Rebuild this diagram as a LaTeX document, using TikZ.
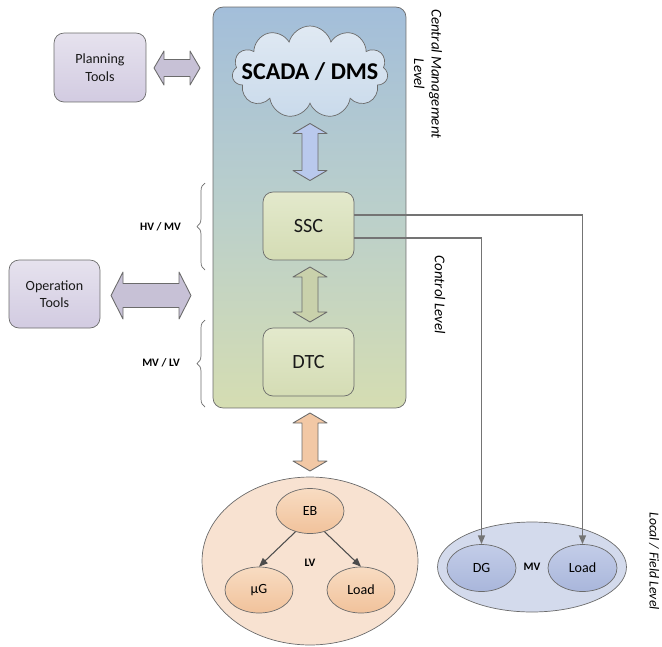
\documentclass[tikz,border=0pt]{standalone}
\usepackage{fontspec}
\setmainfont{Carlito}
\usepackage{tikz}
\usetikzlibrary{shapes,arrows.meta,positioning,calc,decorations.pathreplacing}

\definecolor{edgegray}{HTML}{6B6B6B}
\definecolor{linkgray}{HTML}{747474}
\definecolor{bluetop}{HTML}{A3BEDA}
\definecolor{bluemid}{HTML}{BACFCB}
\definecolor{greenbot}{HTML}{D5DDB2}
\definecolor{cloudtop}{HTML}{E0E9F3}
\definecolor{cloudbot}{HTML}{C9DAEB}
\definecolor{ctrltop}{HTML}{E3E9CC}
\definecolor{ctrlbot}{HTML}{D4DCB4}
\definecolor{tooltop}{HTML}{E6E2EE}
\definecolor{toolbot}{HTML}{D2CBE1}
\definecolor{peach}{HTML}{F8E2D1}
\definecolor{orangetop}{HTML}{F8DCC2}
\definecolor{orangebot}{HTML}{F1C29B}
\definecolor{mvfill}{HTML}{D3DAEC}
\definecolor{mvtop}{HTML}{C3CDE8}
\definecolor{mvbot}{HTML}{A9B6DB}

\begin{document}
\begin{tikzpicture}[x=0.02cm,y=-0.02cm,
    box/.style={draw=edgegray, rounded corners=0.2cm, minimum width=1.82cm,
      minimum height=1.36cm, align=center, text=black!90, font=\fontsize{8}{10}\selectfont},
    ctrl/.style={box, top color=ctrltop, bottom color=ctrlbot, font=\fontsize{11.5}{13}\selectfont},
    tool/.style={box, top color=tooltop, bottom color=toolbot},
    % block double arrow: length, shaft half width, head half width, head length
    pics/dblarrow/.style n args={4}{code={
      \path[pic actions] (0,-#1/2) -- (#3,-#1/2+#4) -- (#2,-#1/2+#4) -- (#2,#1/2-#4)
        -- (#3,#1/2-#4) -- (0,#1/2) -- (-#3,#1/2-#4) -- (-#2,#1/2-#4)
        -- (-#2,-#1/2+#4) -- (-#3,-#1/2+#4) -- cycle;}},
    bigarrow/.style={draw=edgegray, line width=0.5pt, line join=round},
    bubble/.style={ellipse, draw=edgegray, inner sep=0pt, font=\fontsize{8}{10}\selectfont},
    level/.style={rotate=-90, align=center, font=\fontsize{8.5}{10}\selectfont\itshape},
    volt/.style={font=\fontsize{6.5}{8}\selectfont\bfseries},
    brace/.style={draw=edgegray, decorate, decoration={brace, amplitude=0.16cm}},
    link/.style={draw=linkgray, line width=0.8pt, -{Triangle[length=5pt,width=4pt]}},
    branch/.style={draw=black!70, line width=0.6pt, -{Triangle[length=5pt,width=4pt]}}]

    \useasboundingbox (0,0) rectangle (662,646);

    % Central management + control column
    \node[draw=edgegray, rounded corners=0.2cm, minimum width=3.86cm, minimum height=8.02cm,
      top color=bluetop, bottom color=greenbot, middle color=bluemid, inner sep=0pt] (column) at (309.5,207.5) {};

    % SCADA cloud
    \node[cloud, cloud puffs=11, cloud ignores aspect, draw=edgegray, inner sep=0pt,
      minimum width=3.12cm, minimum height=1.84cm, top color=cloudtop, bottom color=cloudbot] (scada) at (310,72) {};
    \node[font=\fontsize{13.7}{16}\selectfont\bfseries] (scadatxt) at (scada.center) {SCADA / DMS};

    \pic[bigarrow, fill=blue!8!cloudbot] (a1) at (310,152) {dblarrow={57}{8}{17}{10}};

    % Controllers
    \node[ctrl] (ssc) at (308.5,226) {SSC};
    \pic[bigarrow, fill=ctrlbot!95!black] (a2) at (310,294.5) {dblarrow={55}{8}{17}{10}};
    \node[ctrl] (dtc) at (308.5,362) {DTC};

    % Tools
    \node[tool, minimum width=1.84cm, minimum height=1.38cm] (planning) at (100,67.5) {Planning\\Tools};
    \pic[bigarrow, rotate=90, fill=toolbot!95!black] (a3) at (177,68) {dblarrow={46}{8.5}{17}{10}};
    \node[tool] (operation) at (54.5,294) {Operation\\Tools};
    \pic[bigarrow, rotate=90, fill=toolbot!95!black] (a4) at (151,295.5) {dblarrow={80}{12}{23.5}{12}};

    % Voltage ranges
    \draw[brace] (205,270) -- (205,183);
    \node[volt] (hvmv) at (160.5,227) {HV / MV};
    \draw[brace] (205,407) -- (205,320);
    \node[volt] (mvlv) at (161,363) {MV / LV};

    % Level names
    \node[level] (cml) at (428,74) {Central Management\\Level};
    \node[level] (cl) at (440,295) {Control Level};
    \node[level, font=\fontsize{7.8}{9}\selectfont\itshape] (lfl) at (654,561) {Local / Field Level};

    % LV area
    \pic[bigarrow, fill=orangebot!90!white] (a5) at (310,442) {dblarrow={58}{8}{17}{10}};
    \node[bubble, fill=peach, minimum width=4.32cm, minimum height=3.36cm] (lv) at (310,561) {};
    \node[volt] (lvtxt) at (310,563) {LV};
    \node[bubble, top color=orangetop, bottom color=orangebot, minimum width=1.36cm, minimum height=0.9cm] (eb) at (310,511) {EB};
    \node[bubble, top color=orangetop, bottom color=orangebot, minimum width=1.36cm, minimum height=0.92cm] (ug) at (259,590) {µG};
    \node[bubble, top color=orangetop, bottom color=orangebot, minimum width=1.36cm, minimum height=0.92cm] (lvload) at (361,590) {Load};
    \draw[branch] (eb.235) -- (ug.north);
    \draw[branch] (eb.305) -- (lvload.north);

    % MV area
    \node[bubble, fill=mvfill, minimum width=3.78cm, minimum height=1.8cm] (mv) at (532,567) {};
    \node[volt] (mvtxt) at (532,567) {MV};
    \node[bubble, top color=mvtop, bottom color=mvbot, minimum width=1.38cm, minimum height=0.94cm] (dg) at (481.5,568) {DG};
    \node[bubble, top color=mvtop, bottom color=mvbot, minimum width=1.38cm, minimum height=0.94cm] (mvload) at (582.5,568) {Load};

    % SSC links to field
    \draw[link] ([yshift=0.22cm]ssc.east) -| (mvload.north);
    \draw[link] ([yshift=-0.24cm]ssc.east) -| (dg.north);
\end{tikzpicture}
\end{document}
